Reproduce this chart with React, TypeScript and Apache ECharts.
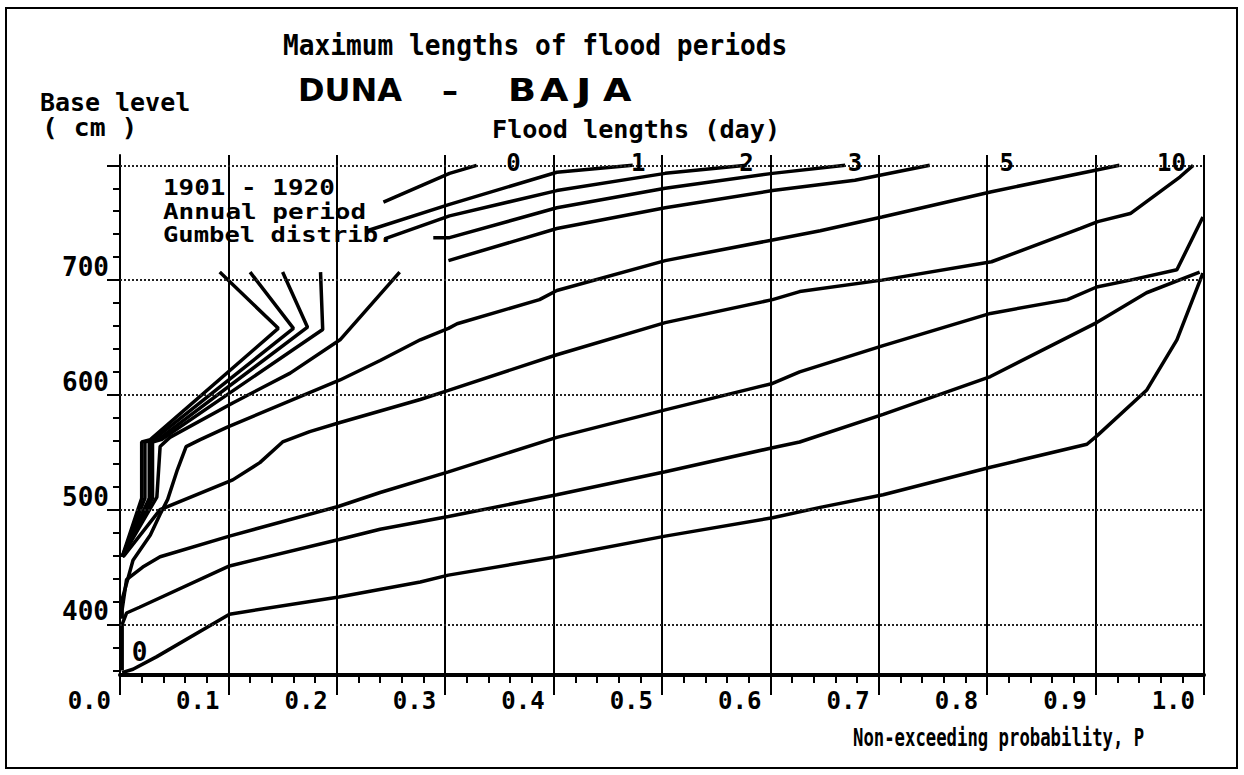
import React, { useEffect, useRef } from "react";
import * as echarts from "echarts";

// ---------- axes ----------
const X_MIN = 0;
const X_MAX = 1.0;
const X_INTERVAL = 0.1;
const Y_MIN = 356;
const Y_MAX = 809;
const yLabelValues = [400, 500, 600, 700];
const yMinorTicks = [360, 380, 400, 420, 440, 460, 480, 500, 520, 540, 560, 580, 600, 620, 640, 660, 680, 700, 720, 740, 760, 780, 800];
const yMajorTicks = [400, 500, 600, 700, 800];
const levelGridValues = [400, 500, 600, 700, 800];

// ---------- flood-length labels (top) ----------
const lengthLabels = ["0", "1", "2", "3", "5", "10"];
const lengthLabelP = [0.363, 0.478, 0.578, 0.678, 0.818, 0.97];
const lengthLabelLevel = 802;
const cornerLabel = { text: "0", p: 0.018, level: 376 };

// ---------- curves: [P, level cm] ----------
// lower parts (below the legend)
const curveGt0 = [[0.002, 459], [0.02, 510], [0.02, 559], [0.028, 561], [0.146, 658], [0.092, 707]];
const curveGt1 = [[0.002, 459], [0.023, 510], [0.023, 559], [0.031, 561], [0.16, 658], [0.12, 707]];
const curveGt2 = [[0.002, 459], [0.027, 510], [0.027, 559], [0.035, 561], [0.173, 659], [0.15, 707]];
const curveGt3 = [[0.002, 459], [0.03, 510], [0.03, 559], [0.038, 561], [0.187, 657], [0.185, 707]];
const curveF = [[0.002, 459], [0.034, 511], [0.037, 555], [0.046, 563], [0.104, 593], [0.157, 619], [0.203, 648], [0.258, 707]];
// upper parts (right of the legend)
const curveA = [[0.243, 768], [0.304, 793], [0.329, 800]];
const curveB = [[0.228, 743], [0.304, 766], [0.403, 794], [0.473, 800]];
const curveC = [[0.244, 736], [0.304, 756], [0.403, 778], [0.503, 793], [0.578, 800]];
const curveD = [[0.289, 737], [0.304, 737], [0.403, 763], [0.503, 780], [0.602, 793], [0.669, 800]];
const curveE = [[0.303, 717], [0.403, 745], [0.503, 763], [0.602, 778], [0.678, 787], [0.747, 800]];
// full curves
const curveG = [[0.002, 405], [0.002, 422], [0.012, 456], [0.028, 478], [0.037, 496], [0.044, 509], [0.053, 535], [0.061, 555], [0.074, 561], [0.099, 572], [0.203, 613], [0.24, 630], [0.277, 648], [0.303, 658], [0.311, 662], [0.387, 683], [0.403, 691], [0.503, 717], [0.602, 735], [0.646, 743], [0.703, 755], [0.804, 777], [0.901, 796], [0.922, 800]];
const curveH = [[0.003, 459], [0.037, 500], [0.104, 526], [0.129, 541], [0.15, 559], [0.175, 568], [0.203, 576], [0.277, 596], [0.303, 604], [0.403, 635], [0.503, 663], [0.602, 683], [0.627, 690], [0.703, 700], [0.804, 716], [0.886, 745], [0.902, 751], [0.932, 758], [0.978, 790], [0.99, 800]];
const curveI = [[0.002, 413], [0.006, 439], [0.021, 450], [0.037, 459], [0.101, 477], [0.202, 503], [0.24, 515], [0.303, 533], [0.403, 563], [0.503, 587], [0.602, 610], [0.627, 620], [0.704, 643], [0.803, 671], [0.874, 683], [0.901, 694], [0.932, 700], [0.975, 709], [0.999, 755]];
const curveJ = [[0.002, 360], [0.002, 400], [0.006, 410], [0.018, 415], [0.101, 451], [0.202, 474], [0.24, 483], [0.303, 494], [0.403, 513], [0.503, 533], [0.602, 554], [0.627, 559], [0.704, 583], [0.803, 616], [0.901, 663], [0.947, 689], [0.996, 707]];
const curveK = [[0.002, 358], [0.012, 361], [0.034, 372], [0.101, 409], [0.202, 424], [0.277, 437], [0.303, 443], [0.403, 459], [0.503, 477], [0.602, 493], [0.646, 502], [0.704, 513], [0.803, 537], [0.892, 557], [0.902, 565], [0.947, 604], [0.975, 648], [0.999, 706]];

const curves = [curveGt0, curveGt1, curveGt2, curveGt3, curveF, curveA, curveB, curveC, curveD, curveE, curveG, curveH, curveI, curveJ, curveK];

const FONT = "'DejaVu Sans Mono', monospace";
const HEAVY = "'DejaVu Sans', sans-serif";

export default function App() {
  const ref = useRef<HTMLDivElement>(null);

  useEffect(() => {
    if (!ref.current) return;
    const chart = echarts.init(ref.current, null, { renderer: "svg" });

    const lineSeries = curves.map((d, i) => ({
      type: "line",
      name: "c" + i,
      data: d,
      showSymbol: false,
      symbol: "none",
      silent: true,
      z: 4,
      lineStyle: { color: "#000", width: 3.5 },
    }));

    const txt = (text: string, x: number, y: number, size: number, scaleX = 1, family = FONT) => ({
      type: "text",
      x,
      y,
      scaleX,
      silent: true,
      style: {
        text,
        fill: "#000",
        font: `bold ${size}px ${family}`,
        textVerticalAlign: "middle",
      },
    });

    const labelStyle = (size: number) => ({
      show: true,
      position: "inside",
      formatter: (p: any) => p.name,
      color: "#000",
      opacity: 1,
      fontFamily: FONT,
      fontWeight: "bold",
      fontSize: size,
    });

    chart.setOption({
      animation: false,
      backgroundColor: "#fff",
      grid: { left: 120, right: 40, top: 155, bottom: 100 },
      xAxis: {
        type: "value",
        min: X_MIN,
        max: X_MAX,
        interval: X_INTERVAL,
        axisLine: { show: true, lineStyle: { color: "#000", width: 4 } },
        axisTick: { show: true, length: 20, lineStyle: { color: "#000", width: 2 } },
        minorTick: { show: true, splitNumber: 5, length: 8, lineStyle: { color: "#000", width: 2 } },
        splitLine: { show: true, lineStyle: { color: "#000", width: 2 } },
        minorSplitLine: { show: false },
        axisLabel: {
          formatter: (v: number) => v.toFixed(1),
          align: "right",
          verticalAlign: "top",
          padding: [0, 9, 0, 0],
          margin: 14,
          color: "#000",
          fontFamily: FONT,
          fontWeight: "bold",
          fontSize: 24,
          showMinLabel: true,
          showMaxLabel: true,
        },
      },
      yAxis: [
        {
          type: "value",
          min: Y_MIN,
          max: Y_MAX,
          axisLine: { show: true, lineStyle: { color: "#000", width: 2 } },
          axisTick: { show: true, customValues: yMinorTicks, length: 7, lineStyle: { color: "#000", width: 2 } },
          axisLabel: {
            customValues: yLabelValues,
            verticalAlign: "bottom",
            margin: 11,
            color: "#000",
            fontFamily: FONT,
            fontWeight: "bold",
            fontSize: 26,
          },
          splitLine: { show: false },
        },
        {
          type: "value",
          min: Y_MIN,
          max: Y_MAX,
          position: "left",
          axisLine: { show: false },
          axisTick: { show: true, customValues: yMajorTicks, length: 13, lineStyle: { color: "#000", width: 2 } },
          axisLabel: { show: false },
          splitLine: { show: false },
        },
      ],
      series: [
        {
          type: "line",
          data: [],
          silent: true,
          markLine: {
            silent: true,
            symbol: "none",
            label: { show: false },
            lineStyle: { color: "#222", type: [2, 2], width: 2 },
            data: levelGridValues.map((v) => ({ yAxis: v })),
          },
        },
        ...lineSeries,
        {
          type: "scatter",
          symbolSize: 0,
          silent: true,
          z: 5,
          itemStyle: { opacity: 1 },
          data: lengthLabelP.map((p, i) => ({ value: [p, lengthLabelLevel], name: lengthLabels[i] })),
          label: labelStyle(24),
        },
        {
          type: "scatter",
          symbolSize: 0,
          silent: true,
          z: 5,
          itemStyle: { opacity: 1 },
          data: [{ value: [cornerLabel.p, cornerLabel.level], name: cornerLabel.text }],
          label: labelStyle(26),
        },
      ],
      graphic: [
        {
          type: "rect",
          silent: true,
          shape: { x: 6, y: 8, width: 1231, height: 760 },
          style: { fill: "none", stroke: "#000", lineWidth: 2 },
        },
        txt("Maximum lengths of flood periods", 283, 45, 28, 0.935),
        txt("DUNA", 298, 90, 32, 1.0, HEAVY),
        txt("\u2013", 442, 91, 32, 1, HEAVY),
        txt("B", 508, 90, 32, 1.15, HEAVY),
        txt("A", 540, 90, 32, 1.15, HEAVY),
        txt("J", 576, 90, 32, 1.3, HEAVY),
        txt("A", 603, 90, 32, 1.15, HEAVY),
        txt("Base level", 40, 103, 24, 1.04),
        txt("( cm )", 42, 128, 24, 1.1),
        txt("Flood lengths (day)", 492, 130, 24, 1.05),
        txt("1901 - 1920", 163, 188, 22, 1.18),
        txt("Annual period", 163, 212, 22, 1.18),
        txt("Gumbel distrib.", 163, 235, 22, 1.16),
        txt("Non-exceeding probability, P", 853, 738, 24, 0.72),
      ],
    });

    return () => chart.dispose();
  }, []);

  return (
    <div
      ref={ref}
      style={{ position: "fixed", left: 0, top: 0, width: 1244, height: 775, background: "#fff" }}
    />
  );
}
